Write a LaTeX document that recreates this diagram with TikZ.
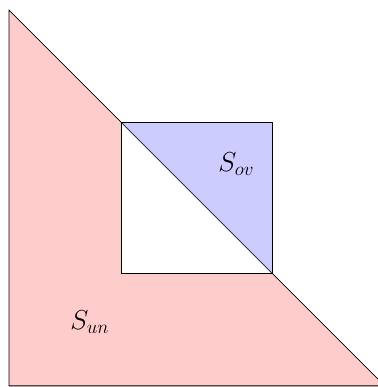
\documentclass[tikz,border=0pt]{standalone}
\begin{document}
\begin{tikzpicture}[
    region/.style={draw, semithick},
    lbl/.style={font=\huge}
]
\useasboundingbox (-0.24,-0.03) rectangle (9.81,10.27);
% under-region: triangle minus square
\fill[red!20, even odd rule] (0,0) -- (10,0) -- (0,10) -- cycle (3,3) rectangle (7,7);
% overlap part
\fill[blue!20] (3,7) -- (7,7) -- (7,3) -- cycle;
\draw[region] (0,0) -- (10,0) -- (0,10) -- cycle;
\draw[region] (3,3) rectangle (7,7);
\draw[very thin, black!70] (3,7) -- (7,3);
% labels
\node[lbl] (sov) at (6.05,5.9) {$S_{ov}$};
\node[lbl] (sun) at (2.15,1.7) {$S_{un}$};
\end{tikzpicture}
\end{document}
